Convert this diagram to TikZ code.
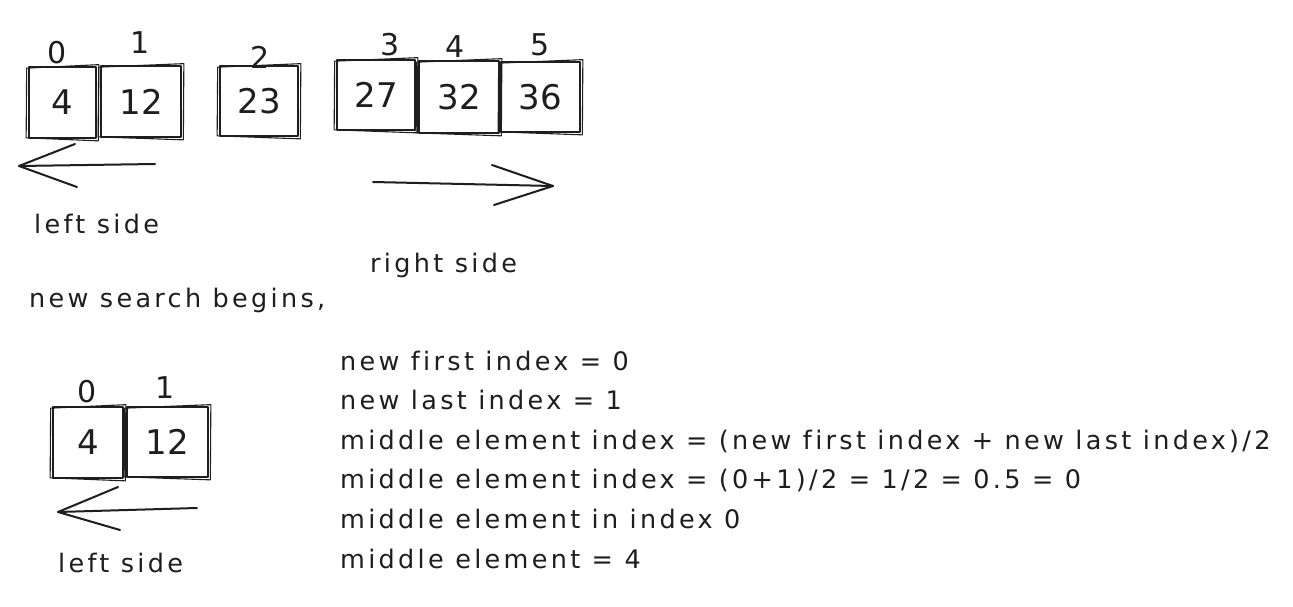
\documentclass[tikz,border=0pt]{standalone}
\usepackage{fontspec}
\setmainfont{DejaVu Sans}[LetterSpace=13,Ligatures=NoCommon]
\newfontfamily\numfont{DejaVu Sans}[LetterSpace=2]
\definecolor{ink}{HTML}{1E1E1E}
\newcommand\roughout[1]{\draw[rough] ([shift={(-1.5,2)}]#1.north west) -- ([shift={(2,-1.5)}]#1.north east) -- ([shift={(1.5,2)}]#1.south east) -- ([shift={(-2,-1)}]#1.south west) -- cycle;}
\begin{document}
\begin{tikzpicture}[x=1pt,y=-1pt, line cap=round, line join=round, color=ink,
  cell/.style={draw=ink, line width=1.7pt, inner sep=0pt, font=\numfont\fontsize{34}{34}\selectfont},
  idx/.style={font=\numfont\fontsize{30}{30}\selectfont, inner sep=0pt},
  txt/.style={font=\fontsize{25.5}{25.5}\selectfont, inner sep=0pt, anchor=base west},
  stroke/.style={line width=2pt},
  rough/.style={line width=1.1pt}]
\fill[white] (0,0) rectangle (1293,607);
\useasboundingbox (0,0) rectangle (1293,607);
% top array
\node[cell, minimum width=67pt, minimum height=71pt] (a0) at (62.5,102.5) {4};
\node[cell, minimum width=80pt, minimum height=71pt] (a1) at (141,101.5) {12};
\node[cell, minimum width=78pt, minimum height=70pt] (a2) at (259,101) {23};
\node[cell, minimum width=78pt, minimum height=70pt] (a3) at (376,95) {27};
\node[cell, minimum width=80pt, minimum height=72pt] (a4) at (459,97) {32};
\node[cell, minimum width=79pt, minimum height=70pt] (a5) at (540.5,97) {36};
\foreach \n in {a0,a1,a2,a3,a4,a5} {\roughout{\n}}
\node[idx] (i0) at (57,53) {0};
\node[idx] (i1) at (140,43) {1};
\node[idx] (i2) at (260,57) {2};
\node[idx] (i3) at (390,45) {3};
\node[idx] (i4) at (455,47) {4};
\node[idx] (i5) at (540,45) {5};
% top arrows
\coordinate (lt) at (155,164); \coordinate (lh) at (19,166);
\coordinate (lh1) at (75,144); \coordinate (lh2) at (77,187);
\draw[stroke] (lt) -- (lh);
\draw[stroke] (lh1) -- (lh) -- (lh2);
\coordinate (rt) at (373,182); \coordinate (rh) at (553,186);
\coordinate (rh1) at (492,165); \coordinate (rh2) at (494,205);
\draw[stroke] (rt) -- (rh);
\draw[stroke] (rh1) -- (rh) -- (rh2);
\node[txt] (ls1) at (34,233) {left side};
\node[txt] (rs1) at (370,272) {right side};
\node[txt] (nsb) at (29,307) {new search begins,};
% bottom array
\node[cell, minimum width=70pt, minimum height=71pt] (b0) at (88,442.5) {4};
\node[cell, minimum width=81pt, minimum height=70pt] (b1) at (167.5,442) {12};
\foreach \n in {b0,b1} {\roughout{\n}}
\node[idx] (j0) at (87,392) {0};
\node[idx] (j1) at (165,388) {1};
\coordinate (bt) at (197,508); \coordinate (bh) at (58,512);
\coordinate (bh1) at (118,487); \coordinate (bh2) at (120,530);
\draw[stroke] (bt) -- (bh);
\draw[stroke] (bh1) -- (bh) -- (bh2);
\node[txt] (ls2) at (58,572) {left side};
% explanation
\node[txt] (t1) at (340,370) {new first index = 0};
\node[txt] (t2) at (340,409) {new last index = 1};
\node[txt] (t3) at (340,449) {middle element index = (new first index + new last index)/2};
\node[txt] (t4) at (340,488) {middle element index = (0+1)/2 = 1/2 = 0.5 = 0};
\node[txt] (t5) at (340,528) {middle element in index 0};
\node[txt] (t6) at (340,568) {middle element = 4};
\end{tikzpicture}
\end{document}
